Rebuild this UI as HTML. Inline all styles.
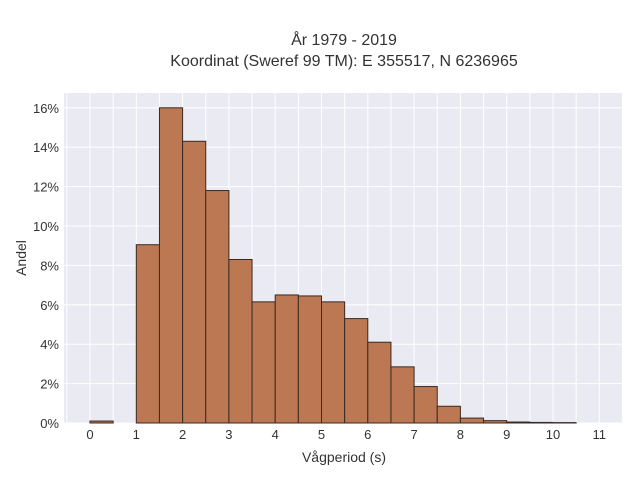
<!DOCTYPE html>
<html><head><meta charset="utf-8"><style>
body{margin:0;background:#fff;font-family:"Liberation Sans",sans-serif}
</style></head><body>
<svg width="640" height="480" xmlns="http://www.w3.org/2000/svg">
<g id="chart" font-family="Liberation Sans, sans-serif" fill="#333"></g>
</svg>
<script>
const binStarts=[0,0.5,1,1.5,2,2.5,3,3.5,4,4.5,5,5.5,6,6.5,7,7.5,8,8.5,9,9.5,10];
const shares=[0.1,0,9.05,16.0,14.3,11.8,8.3,6.15,6.5,6.45,6.15,5.3,4.1,2.85,1.85,0.85,0.25,0.12,0.05,0.03,0.02];
const xTicks=[0,1,2,3,4,5,6,7,8,9,10,11];
const yTicks=[0,2,4,6,8,10,12,14,16];
const binWidth=0.5;
const L=64,R=623,T=93,B=423;
const X=v=>90+(v)*46.3;
const Y=v=>B-v*19.7;
const g=document.getElementById('chart');
const NS='http://www.w3.org/2000/svg';
function mk(tag,attrs,parent){const e=document.createElementNS(NS,tag);for(const k in attrs)e.setAttribute(k,attrs[k]);(parent||g).appendChild(e);return e;}
const bg=mk('rect',{x:L,y:T,width:R-L,height:B-T,fill:'#eaeaf2'});


for(let v=-0.5;v<=11.5;v+=0.5){const x=X(v);if(x<L||x>R)continue;
 const l=mk('line',{x1:x,x2:x,y1:T,y2:B,stroke:'#fff','stroke-width':1});
 
 }
yTicks.forEach(v=>{const l=mk('line',{x1:L,x2:R,y1:Y(v),y2:Y(v),stroke:'#fff','stroke-width':1});
 
 
 const t=mk('text',{x:59,y:Y(v)+5,'text-anchor':'end','font-size':13});t.textContent=v+'%';
 
 });
xTicks.forEach(v=>{const t=mk('text',{x:X(v),y:439,'text-anchor':'middle','font-size':13});t.textContent=v;
 
 });
binStarts.forEach((s,i)=>{const h=shares[i];if(h<=0)return;
 const r=mk('rect',{x:X(s),y:Y(h),width:X(s+binWidth)-X(s),height:B-Y(h),fill:'#bb7852',stroke:'#3a2a22','stroke-width':1});
 
 });
const tt=[['År 1979 - 2019',45],['Koordinat (Sweref 99 TM): E 355517, N 6236965',66]];
tt.forEach(([s,y])=>{const t=mk('text',{x:344,y:y,'text-anchor':'middle','font-size':16});t.textContent=s;
 
 });
const xt=mk('text',{x:344,y:462,'text-anchor':'middle','font-size':14});xt.textContent='Vågperiod (s)';


const yt=mk('text',{x:0,y:0,'text-anchor':'middle','font-size':14,transform:'translate(26,258) rotate(-90)'});yt.textContent='Andel';


</script>
</body></html>
